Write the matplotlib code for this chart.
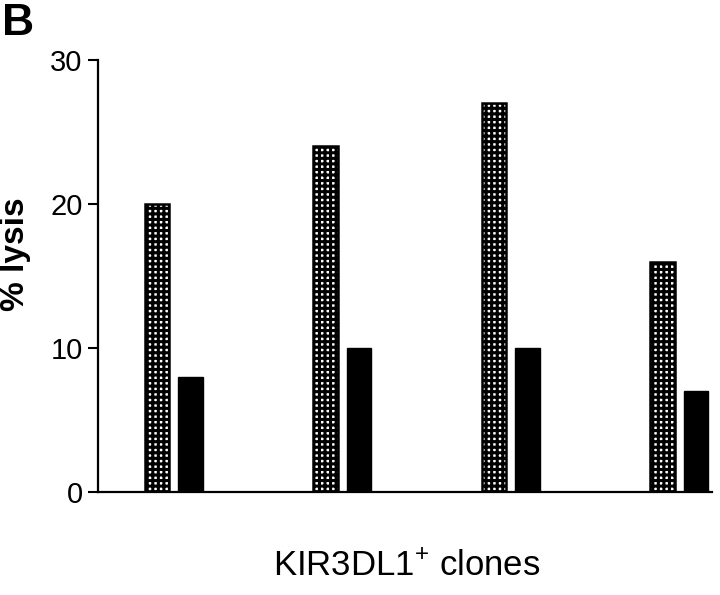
import numpy as np
import matplotlib
matplotlib.use("Agg")
import matplotlib.pyplot as plt

plt.rcParams['font.family'] = ['Liberation Sans', 'DejaVu Sans']
plt.rcParams['mathtext.fontset'] = 'custom'
plt.rcParams['mathtext.rm'] = 'Liberation Sans'
plt.rcParams['hatch.linewidth'] = 2.2

# data
clones = ["1", "2", "3", "4"]
lysis_open = [20, 24, 27, 16]     # checkered bars
lysis_filled = [8, 10, 10, 7]     # black bars
yticks = [0, 10, 20, 30]

fig = plt.figure(figsize=(7.2, 5.95), dpi=100)
ax = fig.add_axes([0.136, 0.173, 0.853, 0.726])

x = np.arange(len(clones))
w = 0.145
ax.bar(x - 0.1, lysis_open, width=w, facecolor='white', edgecolor='black',
       hatch='+++', linewidth=1.8)
ax.bar(x + 0.1, lysis_filled, width=w, color='black', edgecolor='black')

ax.set_xlim(-0.45, 3.194)
ax.set_ylim(0, 30)
ax.set_yticks(yticks)
ax.set_xticks([])
ax.tick_params(axis='y', length=7, width=1.5, pad=4, labelsize=21)
for s in ['top', 'right']:
    ax.spines[s].set_visible(False)
for s in ['left', 'bottom']:
    ax.spines[s].set_linewidth(1.6)

# y label sits a bit above the axis middle in the original
fig.text(0.021, 0.573, '% lysis', fontsize=24, fontweight='bold',
         rotation=90, ha='center', va='center')
fig.text(0.565, 0.05, 'KIR3DL1$^{+}$ clones', fontsize=25, ha='center', va='center')
fig.text(0.003, 0.995, 'B', fontsize=32, fontweight='bold', ha='left', va='top')

fig.savefig('out.png', dpi=100)
